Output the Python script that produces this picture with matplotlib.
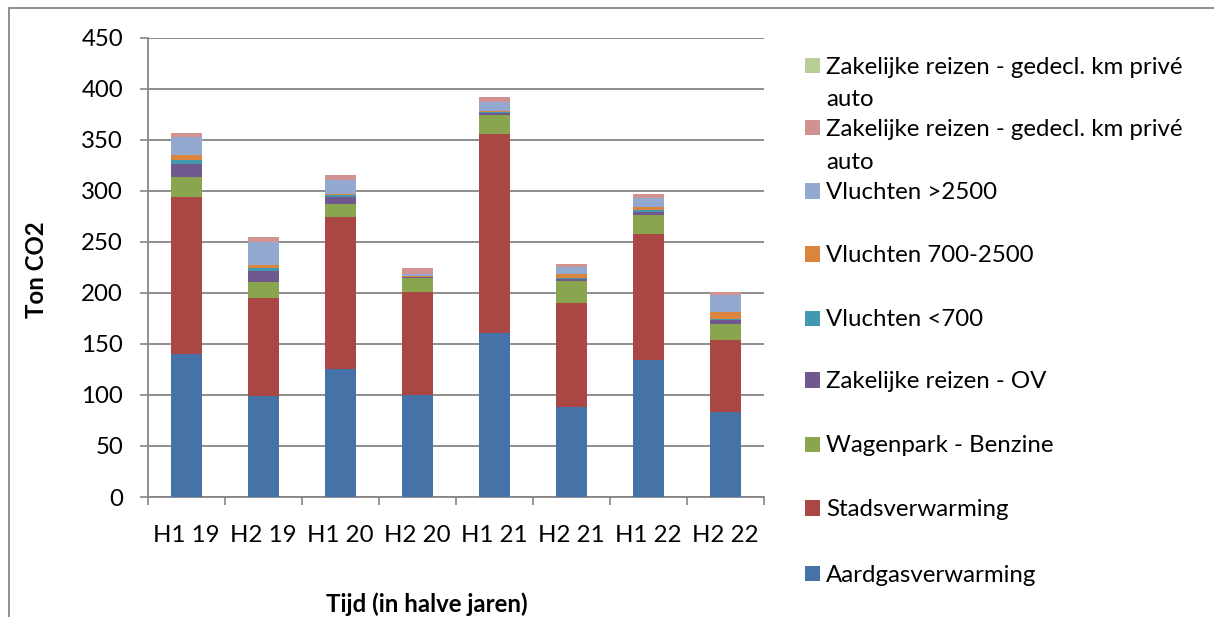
import textwrap
import matplotlib
matplotlib.use("Agg")
import matplotlib.pyplot as plt
from matplotlib.patches import Rectangle
import numpy as np

plt.rcParams['font.family'] = ['Lato', 'DejaVu Sans']

categories = ["H1 19", "H2 19", "H1 20", "H2 20", "H1 21", "H2 21", "H1 22", "H2 22"]

# series, bottom to top of the stack
aardgas = [140.1, 98.6, 125.7, 100.0, 161.0, 87.8, 133.9, 83.3]
stadsverwarming = [154.0, 96.3, 148.2, 100.4, 195.1, 102.3, 123.3, 70.8]
benzine = [19.7, 15.7, 13.4, 13.7, 18.3, 21.1, 19.3, 15.4]
ov = [12.4, 10.4, 6.8, 1.0, 2.3, 2.6, 2.7, 3.5]
vl_700 = [4.2, 3.3, 1.3, 0.7, 0.7, 0.3, 2.2, 1.4]
vl_700_2500 = [4.6, 2.6, 1.7, 1.0, 1.0, 4.6, 2.6, 6.8]
vl_2500 = [17.9, 22.9, 13.0, 1.9, 8.8, 6.2, 9.4, 17.0]
prive_auto_b = [4.2, 5.2, 5.3, 5.2, 4.6, 3.3, 3.7, 2.6]
prive_auto_a = [0, 0, 0, 0, 0, 0, 0, 0]

series_names = [
    "Aardgasverwarming",
    "Stadsverwarming",
    "Wagenpark - Benzine",
    "Zakelijke reizen - OV",
    "Vluchten <700",
    "Vluchten 700-2500",
    "Vluchten >2500",
    "Zakelijke reizen - gedecl. km privé auto",
    "Zakelijke reizen - gedecl. km privé auto",
]
series_values = [aardgas, stadsverwarming, benzine, ov, vl_700, vl_700_2500,
                 vl_2500, prive_auto_b, prive_auto_a]
colors = ["#4572A7", "#AA4643", "#89A54E", "#71588F", "#4198AF",
          "#DB843D", "#93A9CF", "#D19392", "#B9CD96"]

yticks = [0, 50, 100, 150, 200, 250, 300, 350, 400, 450]
ylabel = "Ton CO2"
xlabel = "Tijd (in halve jaren)"

W, H = 1214, 617
fig = plt.figure(figsize=(W / 100, H / 100), dpi=100)

def fx(px):
    return px / W

def fy(py):
    return 1 - py / H

ax = fig.add_axes([fx(148), fy(497), fx(764) - fx(148), fy(37.7) - fy(497)])

grid_color = "#868686"
fs = 17.3

x = np.arange(len(categories))
bottom = np.zeros(len(categories))
for vals, c in zip(series_values, colors):
    v = np.array(vals, dtype=float)
    ax.bar(x, v, width=0.4, bottom=bottom, color=c, edgecolor='none', zorder=3)
    bottom += v

ax.set_xlim(-0.5, len(categories) - 0.5)
ax.set_ylim(0, 450)
ax.set_yticks(yticks)
ax.set_yticklabels([str(t) for t in yticks], fontsize=fs)
ax.set_xticks(x)
ax.set_xticklabels(categories, fontsize=fs)
ax.set_xticks(np.arange(len(categories) + 1) - 0.5, minor=True)
ax.tick_params(axis='x', which='major', length=0, pad=20)
ax.tick_params(axis='x', which='minor', length=6, width=1.2, color=grid_color, direction='out')
ax.tick_params(axis='y', which='major', length=6, width=1.2, color=grid_color, direction='out', pad=12)

ax.yaxis.grid(True, color=grid_color, linewidth=1.3, zorder=0)
ax.set_axisbelow(True)
for s in ['top', 'right']:
    ax.spines[s].set_visible(False)
for s in ['left', 'bottom']:
    ax.spines[s].set_color(grid_color)
    ax.spines[s].set_linewidth(1.3)

fig.text(fx(37), fy(270), ylabel, rotation=90, ha='center', va='center',
         fontsize=fs, fontweight='bold')
fig.text(fx(427), fy(604), xlabel, ha='center', va='center',
         fontsize=fs, fontweight='bold')

# legend, top entry = last series
legend_y = [65, 128, 191, 254, 318, 380, 444, 508, 573]
line_gap = 32
order = list(range(len(series_names)))[::-1]
for yy, i in zip(legend_y, order):
    lines = textwrap.wrap(series_names[i], width=36)
    fig.add_artist(Rectangle((fx(805), fy(yy + 7.5)), fx(15), fy(yy - 7.5) - fy(yy + 7.5),
                             transform=fig.transFigure, facecolor=colors[i], edgecolor='none'))
    for k, line in enumerate(lines):
        fig.text(fx(826), fy(yy + k * line_gap), line, ha='left', va='center_baseline',
                 fontsize=fs)

# outer chart frame
fig.add_artist(Rectangle((fx(9), fy(H + 20)), fx(W + 20), fy(8) - fy(H + 20),
                         transform=fig.transFigure, facecolor='none',
                         edgecolor=grid_color, linewidth=1.3))

fig.savefig("out.png", dpi=100)
